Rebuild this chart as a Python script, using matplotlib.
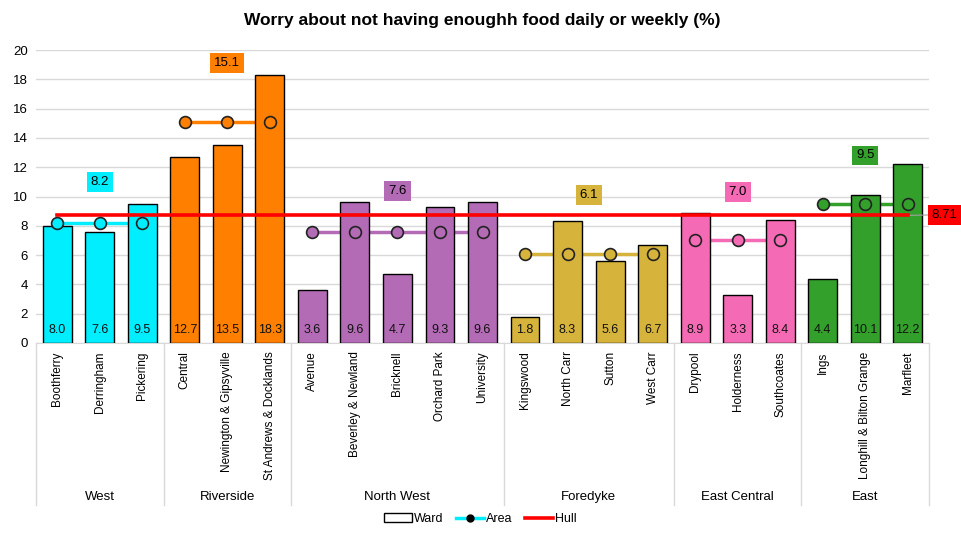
import matplotlib
matplotlib.use("Agg")
import matplotlib.pyplot as plt
from matplotlib.lines import Line2D
from matplotlib.patches import Patch
from matplotlib.transforms import blended_transform_factory

plt.rcParams["font.family"] = ["Liberation Sans", "DejaVu Sans"]

# data
areas = ["West", "Riverside", "North West", "Foredyke", "East Central", "East"]
wards = [
    ["Boothferry", "Derringham", "Pickering"],
    ["Central", "Newington & Gipsyville", "St Andrews & Docklands"],
    ["Avenue", "Beverley & Newland", "Bricknell", "Orchard Park", "University"],
    ["Kingswood", "North Carr", "Sutton", "West Carr"],
    ["Drypool", "Holderness", "Southcoates"],
    ["Ings", "Longhill & Bilton Grange", "Marfleet"],
]
ward_values = [
    [8.0, 7.6, 9.5],
    [12.7, 13.5, 18.3],
    [3.6, 9.6, 4.7, 9.3, 9.6],
    [1.8, 8.3, 5.6, 6.7],
    [8.9, 3.3, 8.4],
    [4.4, 10.1, 12.2],
]
area_values = [8.2, 15.1, 7.6, 6.1, 7.0, 9.5]
hull_value = 8.71

# styles
area_colors = ["#00EEFF", "#FF8000", "#B46BB6", "#D6B43C", "#F46AB4", "#33A02C"]
label_offsets = [2.8, 4.0, 2.8, 4.0, 3.3, 3.3]

fig = plt.figure(figsize=(9.61, 5.38), dpi=100)
ax = fig.add_axes([0.0375, 0.3625, 0.9292, 0.5445])

pos = 0
tick_pos, tick_labels = [], []
bounds = [-0.5]
for i, (names, vals) in enumerate(zip(wards, ward_values)):
    xs = list(range(pos, pos + len(names)))
    ax.bar(xs, vals, width=0.68, color=area_colors[i], edgecolor="black",
           linewidth=1.0, zorder=3)
    for x, v in zip(xs, vals):
        ax.text(x, 0.45, f"{v:.1f}", ha="center", va="bottom", fontsize=9,
                color="#111111", zorder=6)
    ys = [area_values[i]] * len(xs)
    ax.plot(xs, ys, color=area_colors[i], linewidth=2.5, zorder=2)
    ax.plot(xs, ys, linestyle="none", marker="o", markersize=8.5,
            markerfacecolor=area_colors[i], markeredgecolor="#222222",
            markeredgewidth=1.2, zorder=5)
    cx = (xs[0] + xs[-1]) / 2
    ax.text(cx, area_values[i] + label_offsets[i], f"{area_values[i]:.1f}",
            ha="center", va="center", fontsize=9.5, zorder=6,
            bbox=dict(boxstyle="square,pad=0.3", facecolor=area_colors[i],
                      edgecolor="none"))
    tick_pos += xs
    tick_labels += names
    pos += len(names)
    bounds.append(pos - 0.5)

n = pos
ax.plot([0, n - 1], [hull_value, hull_value], color="#FF0000", linewidth=2.6, zorder=4)
ax.annotate(f"{hull_value:.2f}", xy=(n - 1, hull_value), xytext=(n - 0.13, hull_value + 0.05),
            ha="center", va="center", fontsize=9.5, annotation_clip=False,
            bbox=dict(boxstyle="square,pad=0.3", facecolor="#FF0000", edgecolor="none"),
            arrowprops=dict(arrowstyle="-", color="#A0A0A0", linewidth=0.8,
                            shrinkA=0, shrinkB=0))

ax.set_xlim(-0.5, n - 0.5)
ax.set_ylim(0, 20)
ax.set_yticks(range(0, 21, 2))
ax.tick_params(axis="y", length=0, labelsize=9.5, pad=6)
ax.set_xticks(tick_pos)
ax.set_xticklabels(tick_labels, rotation=90, fontsize=8.5, va="top")
ax.tick_params(axis="x", length=0, pad=6)
ax.grid(axis="y", color="#D9D9D9", linewidth=1.0, zorder=0)
ax.set_axisbelow(True)
for s in ["top", "right", "left"]:
    ax.spines[s].set_visible(False)
ax.spines["bottom"].set_color("#D9D9D9")

trans = blended_transform_factory(ax.transData, ax.transAxes)
for b in bounds:
    ax.add_line(Line2D([b, b], [0, -0.553], transform=trans, color="#D9D9D9",
                       linewidth=1.0, clip_on=False))
for i, a in enumerate(areas):
    c = (bounds[i] + bounds[i + 1]) / 2
    ax.text(c, -0.527, a, transform=trans, ha="center", va="center", fontsize=9.5)

ax.set_title("Worry about not having enoughh food daily or weekly (%)",
             fontsize=12.5, fontweight="bold", pad=18)

handles = [
    Patch(facecolor="white", edgecolor="black", linewidth=1.0),
    Line2D([0], [0], color="#00EEFF", linewidth=2.5, marker="o",
           markerfacecolor="black", markeredgecolor="black", markersize=5),
    Line2D([0], [0], color="#FF0000", linewidth=2.6),
]
fig.legend(handles, ["Ward", "Area", "Hull"], loc="center", bbox_to_anchor=(0.5, 0.035),
           ncol=3, frameon=False, fontsize=9, handlelength=2.2, handletextpad=0.2,
           columnspacing=1.0)

fig.savefig("out.png", dpi=100)
